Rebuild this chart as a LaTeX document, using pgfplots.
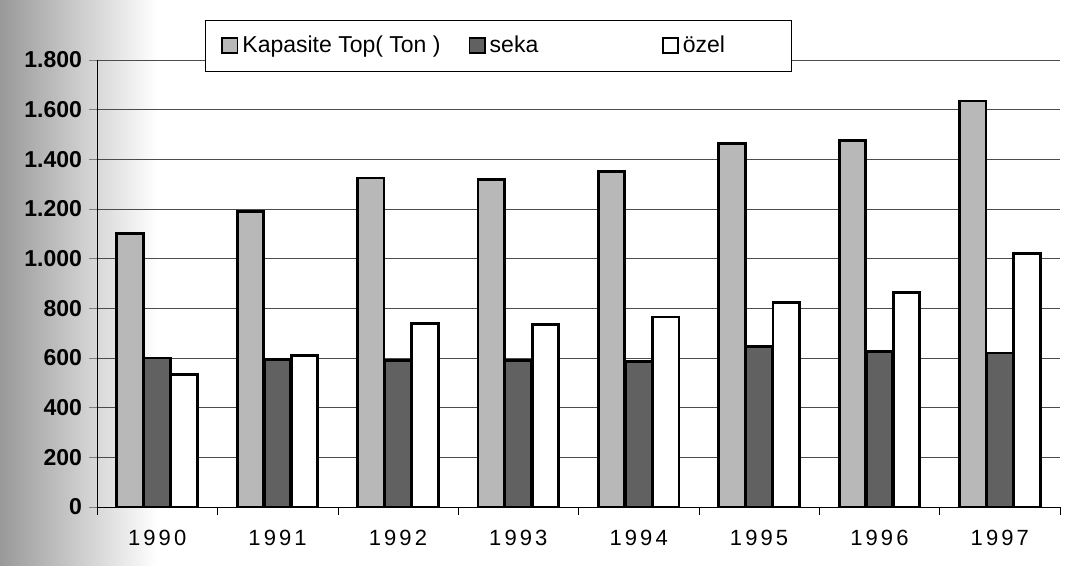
\documentclass[border=0pt]{standalone}
\usepackage{fontspec}
\setmainfont{Liberation Sans}
\newfontfamily\spaced[LetterSpace=14]{Liberation Sans}
\usepackage{pgfplots}
\pgfplotsset{compat=1.18}
\definecolor{kapc}{gray}{0.72}
\definecolor{sekac}{gray}{0.38}
\begin{document}
\begin{tikzpicture}
\shade[left color=gray!80,right color=white] (-48.5pt,-29.5pt) rectangle (30pt,253.5pt);
\begin{axis}[
  name=ax, at={(0,0)}, anchor=south west,
  scale only axis, width=481.5pt, height=223.5pt,
  xmin=-0.5, xmax=7.5, ymin=0, ymax=1800,
  axis x line=bottom, axis y line=left,
  axis line style={-, thin, black},
  ybar, bar width=0.22,
  xtick={0,...,7},
  xticklabels={1990,1991,1992,1993,1994,1995,1996,1997},
  x tick label style={font=\spaced\fontsize{11}{12}\selectfont, yshift=-4pt},
  major x tick style={draw=none},
  minor xtick={-0.5,0.5,...,7.5},
  minor tick length=4pt,
  minor x tick style={black},
  ytick={0,200,...,1800},
  y tick label style={font=\bfseries\fontsize{11.5}{12}\selectfont},
  /pgf/number format/.cd, 1000 sep={.}, assume math mode=true,
  /pgfplots/.cd,
  tick align=outside, major tick length=4pt,
  ymajorgrids, grid style={gray!60!black, thin},
  legend style={at={(rel axis cs:0.112,1.09)}, anchor=north west,
    draw=black, thin, font=\fontsize{11.5}{13}\selectfont,
    legend columns=3, /tikz/every even column/.append style={column sep=12pt},
    inner xsep=8pt, inner ysep=6pt},
  legend image code/.code={\draw[#1, line width=0.9pt] (0cm,-0.12cm) rectangle (0.27cm,0.14cm);},
]
\addplot[draw=black, line width=1.4pt, fill=kapc, bar shift=-0.225] coordinates {
 (0,1100) (1,1190) (2,1325) (3,1320) (4,1350) (5,1465) (6,1475) (7,1635)};
\addplot[draw=black, line width=1.4pt, fill=sekac, bar shift=0] coordinates {
 (0,600) (1,595) (2,590) (3,590) (4,585) (5,645) (6,625) (7,620)};
\addplot[draw=black, line width=1.4pt, fill=white, bar shift=0.225] coordinates {
 (0,535) (1,610) (2,740) (3,735) (4,765) (5,825) (6,865) (7,1020)};
\legend{Kapasite Top( Ton ),\makebox[72pt][l]{seka},\makebox[44pt][l]{özel}}
\end{axis}
\pgfresetboundingbox
\path (-48.5pt,-29.5pt) rectangle (489.5pt,253.5pt);
\end{tikzpicture}
\end{document}
